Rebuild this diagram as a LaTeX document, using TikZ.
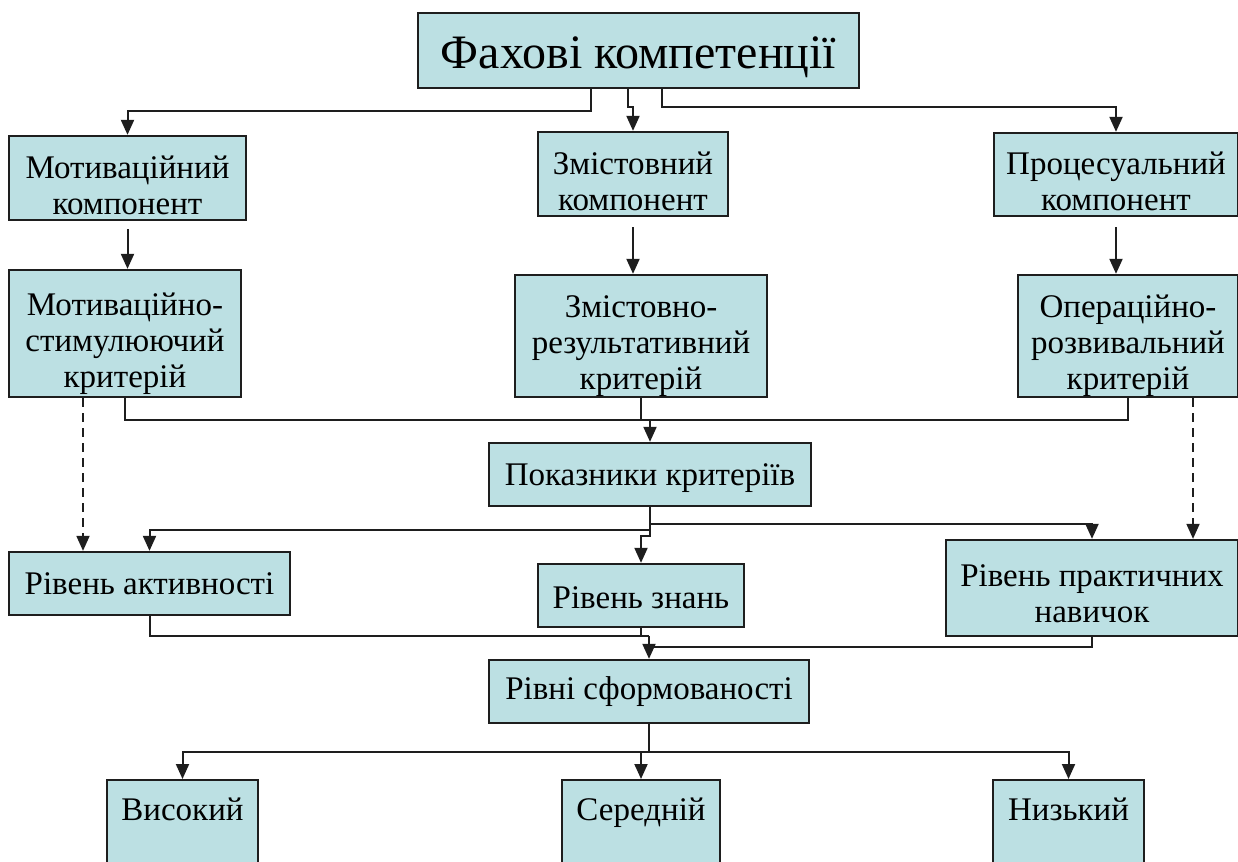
\documentclass[tikz,border=0pt]{standalone}
\usepackage{fontspec}
\setmainfont{Liberation Serif}
\usepackage{tikz}
\usetikzlibrary{arrows.meta}
\definecolor{boxfill}{HTML}{BCE0E3}
\definecolor{ink}{HTML}{1E1E1E}
\newcommand\lowr[1]{\rule{0pt}{#1}}

\begin{document}
\begin{tikzpicture}[x=1pt,y=-1pt,line width=2pt,draw=ink,
 >={Triangle[length=15pt,width=13pt]},
 block/.style={draw=ink,fill=boxfill,line width=2.3pt,inner sep=0pt,align=center,font=\fontsize{33}{36}\selectfont},
 grade/.style={block,anchor=north,inner ysep=6pt,text height=34pt,text depth=70pt},
 hint/.style={->,line width=1.8pt,dash pattern=on 9pt off 6pt}]
 \useasboundingbox (0,0) rectangle (1238,861);
 \clip (0,0) rectangle (1238,861);
 \node[block,minimum width=441pt,minimum height=75pt,font=\fontsize{48}{56}\selectfont] (fax) at (638.5,50.5) {\lowr{46pt}Фахові компетенції};
 \node[block,minimum width=237pt,minimum height=84pt] (motc) at (127.5,178) {\lowr{37pt}Мотиваційний\\компонент};
 \node[block,minimum width=190pt,minimum height=84pt] (zmc) at (633,174) {\lowr{37pt}Змістовний\\компонент};
 \node[block,minimum width=244pt,minimum height=83pt] (proc) at (1116,174.5) {\lowr{37pt}Процесуальний\\компонент};
 \node[block,minimum width=232pt,minimum height=127pt] (motk) at (125,333.5) {\lowr{43pt}Мотиваційно-\\стимулюючий\\критерій};
 \node[block,minimum width=252pt,minimum height=122pt] (zmk) at (641,336) {\lowr{43pt}Змістовно-\\результативний\\критерій};
 \node[block,minimum width=220pt,minimum height=122pt] (opk) at (1128,336) {\lowr{43pt}Операційно-\\розвивальний\\критерій};
 \node[block,minimum width=322pt,minimum height=63pt] (pok) at (650,474.5) {\lowr{29pt}Показники критеріїв};
 \node[block,minimum width=281pt,minimum height=63pt] (ra) at (149.5,583.5) {Рівень активності};
 \node[block,minimum width=206pt,minimum height=63pt] (rz) at (641,595.5) {\lowr{27pt}Рівень знань};
 \node[block,minimum width=292pt,minimum height=96pt] (rp) at (1092,588) {\lowr{33pt}Рівень практичних\\навичок};
 \node[block,minimum width=320pt,minimum height=63pt] (rs) at (649,691.5) {Рівні сформованості};
 \node[grade,minimum width=151pt] (vys) at (182.5,779) {Високий};
 \node[grade,minimum width=158pt] (ser) at (641,779) {Середній};
 \node[grade,minimum width=151pt] (niz) at (1068.5,779) {Низький};

 \draw[->] ([xshift=-48pt]fax.south) -- ++(0,22) -| (motc.north);
 \draw[->] ([xshift=-11pt]fax.south) -- ++(0,18) -| (zmc.north);
 \draw[->] ([xshift=23pt]fax.south) -- ++(0,18) -| (proc.north);
 \draw[->] (motc.south) ++(0,8) -- (motc.south |- motk.north);
 \draw[->] (zmc.south) ++(0,10) -- (zmc.south |- zmk.north);
 \draw[->] (proc.south) ++(0,10) -- (proc.south |- opk.north);

 \coordinate (bus) at ([yshift=22pt]pok.north);
 \draw (motk.south) |- (bus) -| (opk.south);
 \draw (zmk.south) -- (zmk.south |- bus);
 \draw[->] (bus) -- (pok.north);

 \coordinate (dl) at ([xshift=-42pt]motk.south);
 \coordinate (dr) at ([xshift=65pt]opk.south);
 \draw[hint] (dl) -- (dl |- ra.north);
 \draw[hint] (dr) -- (dr |- rp.north);

 \draw[->] (pok.south) -- ++(0,17) -| (rp.north);
 \draw[->] (pok.south) -- ++(0,23) -| (ra.north);
 \draw[->] (pok.south) -- ++(0,29) -| (rz.north);

 \coordinate (mrg) at ([yshift=23pt]rs.north);
 \draw (ra.south) |- (mrg);
 \draw (rz.south) -- (rz.south |- mrg);
 \draw (rp.south) |- ([yshift=12pt]rs.north);
 \draw[->] (mrg) -- (rs.north);

 \draw[->] (rs.south) -- ++(0,28) -| (vys.north);
 \draw[->] (rs.south) -- ++(0,28) -| (ser.north);
 \draw[->] (rs.south) -- ++(0,28) -| (niz.north);
\end{tikzpicture}
\end{document}
